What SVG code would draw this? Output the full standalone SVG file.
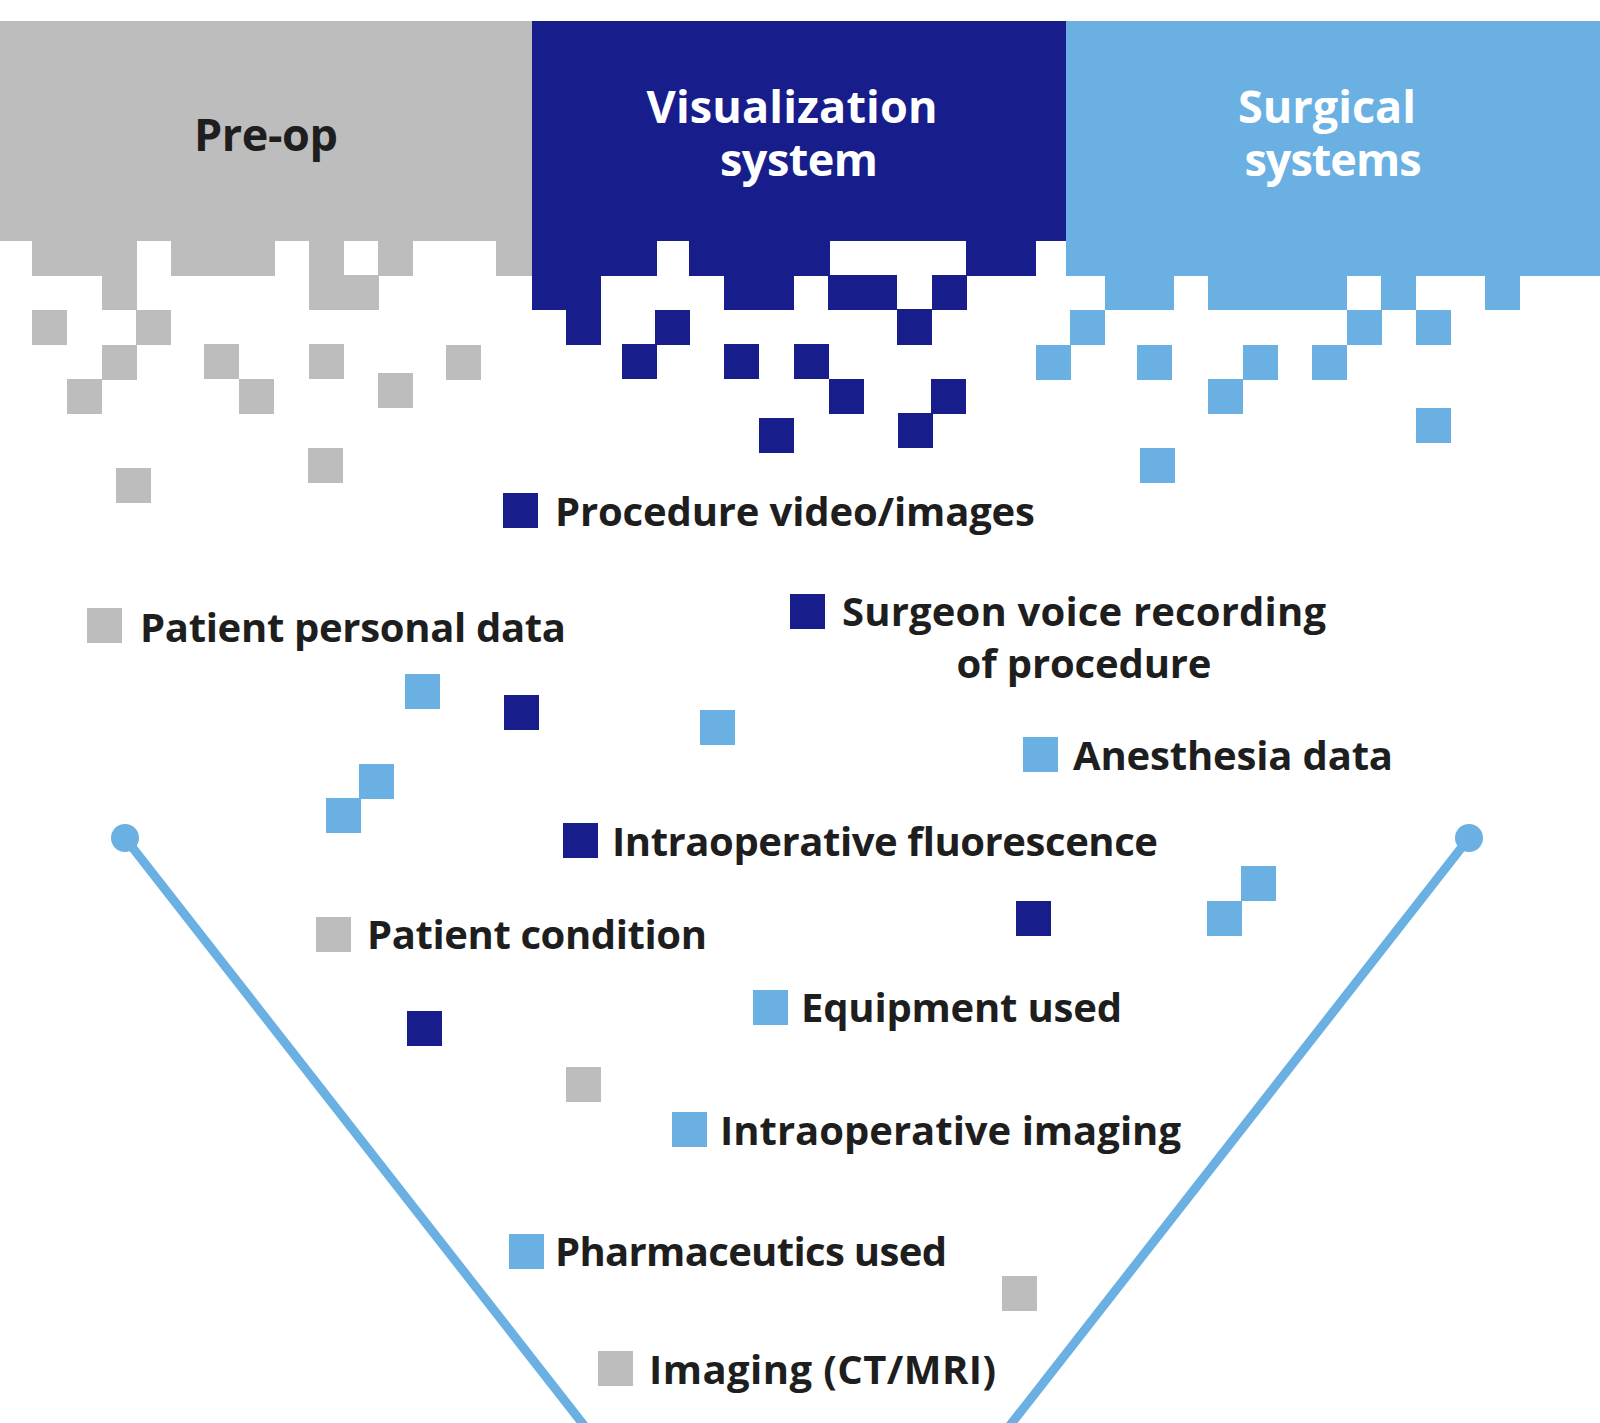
<svg xmlns="http://www.w3.org/2000/svg" width="1600" height="1423" viewBox="0 0 1600 1423">
<style>
.g{fill:#bdbdbd}
.d{fill:#171e8c}
.l{fill:#6ab0e3}
.t{font-family:"Open Sans","Noto Sans","DejaVu Sans",sans-serif;font-weight:700;font-size:40px;fill:#1e1e1e}
.h{font-family:"Open Sans","Noto Sans","DejaVu Sans",sans-serif;font-weight:700;font-size:45px;text-anchor:middle}
.line{stroke:#6ab0e3;stroke-width:9;fill:none}
</style>
<rect width="1600" height="1423" fill="#ffffff"/>
<g id="connectors">
<line class="line" x1="125" y1="838" x2="597" y2="1442"/>
<line class="line" x1="1469" y1="838" x2="997" y2="1442"/>
<circle class="l" cx="125" cy="838" r="14"/>
<circle class="l" cx="1469" cy="838" r="14"/>
</g>
<g id="preop">
<rect class="g" x="0" y="21" width="532" height="220"/>
<rect class="g" x="32" y="240" width="105" height="36"/>
<rect class="g" x="171" y="240" width="104" height="36"/>
<rect class="g" x="309" y="240" width="35" height="36"/>
<rect class="g" x="378" y="240" width="35" height="36"/>
<rect class="g" x="496" y="240" width="36" height="36"/>
<rect class="g" x="102" y="275" width="35" height="35"/>
<rect class="g" x="309" y="275" width="70" height="35"/>
<rect class="g" x="32" y="310" width="35" height="35"/>
<rect class="g" x="136" y="310" width="35" height="35"/>
<rect class="g" x="102" y="345" width="35" height="35"/>
<rect class="g" x="204" y="344" width="35" height="35"/>
<rect class="g" x="309" y="344" width="35" height="35"/>
<rect class="g" x="446" y="345" width="35" height="35"/>
<rect class="g" x="67" y="379" width="35" height="35"/>
<rect class="g" x="239" y="379" width="35" height="35"/>
<rect class="g" x="378" y="373" width="35" height="35"/>
<rect class="g" x="308" y="448" width="35" height="35"/>
<rect class="g" x="116" y="468" width="35" height="35"/>
<text class="h" x="266" y="151" fill="#1e1e1e" textLength="144">Pre-op</text>
</g>
<g id="visualization">
<rect class="d" x="532" y="21" width="534" height="220"/>
<rect class="d" x="532" y="240" width="125" height="36"/>
<rect class="d" x="689" y="240" width="141" height="36"/>
<rect class="d" x="966" y="240" width="70" height="36"/>
<rect class="d" x="532" y="275" width="69" height="35"/>
<rect class="d" x="724" y="275" width="70" height="35"/>
<rect class="d" x="828" y="275" width="69" height="35"/>
<rect class="d" x="932" y="275" width="35" height="35"/>
<rect class="d" x="566" y="309" width="35" height="36"/>
<rect class="d" x="655" y="310" width="35" height="35"/>
<rect class="d" x="897" y="309" width="35" height="36"/>
<rect class="d" x="622" y="344" width="35" height="35"/>
<rect class="d" x="724" y="344" width="35" height="35"/>
<rect class="d" x="794" y="344" width="35" height="35"/>
<rect class="d" x="829" y="379" width="35" height="35"/>
<rect class="d" x="931" y="379" width="35" height="35"/>
<rect class="d" x="759" y="418" width="35" height="35"/>
<rect class="d" x="898" y="413" width="35" height="35"/>
<text class="h" x="792" y="123" fill="#ffffff" textLength="291">Visualization</text>
<text class="h" x="799" y="176" fill="#ffffff" textLength="158">system</text>
</g>
<g id="surgical">
<rect class="l" x="1066" y="21" width="534" height="255"/>
<rect class="l" x="1105" y="275" width="69" height="35"/>
<rect class="l" x="1208" y="275" width="139" height="35"/>
<rect class="l" x="1381" y="275" width="35" height="35"/>
<rect class="l" x="1485" y="275" width="35" height="35"/>
<rect class="l" x="1070" y="310" width="35" height="35"/>
<rect class="l" x="1347" y="310" width="35" height="35"/>
<rect class="l" x="1416" y="310" width="35" height="35"/>
<rect class="l" x="1036" y="345" width="35" height="35"/>
<rect class="l" x="1137" y="345" width="35" height="35"/>
<rect class="l" x="1243" y="345" width="35" height="35"/>
<rect class="l" x="1312" y="345" width="35" height="35"/>
<rect class="l" x="1208" y="379" width="35" height="35"/>
<rect class="l" x="1416" y="408" width="35" height="35"/>
<rect class="l" x="1140" y="448" width="35" height="35"/>
<text class="h" x="1327" y="123" fill="#ffffff" textLength="178">Surgical</text>
<text class="h" x="1333" y="176" fill="#ffffff" textLength="177">systems</text>
</g>
<g id="scatter">
<rect class="l" x="405" y="674" width="35" height="35"/>
<rect class="d" x="504" y="695" width="35" height="35"/>
<rect class="l" x="700" y="710" width="35" height="35"/>
<rect class="l" x="359" y="764" width="35" height="35"/>
<rect class="l" x="326" y="798" width="35" height="35"/>
<rect class="d" x="1016" y="901" width="35" height="35"/>
<rect class="l" x="1241" y="866" width="35" height="35"/>
<rect class="l" x="1207" y="901" width="35" height="35"/>
<rect class="d" x="407" y="1011" width="35" height="35"/>
<rect class="g" x="566" y="1067" width="35" height="35"/>
<rect class="g" x="1002" y="1276" width="35" height="35"/>
</g>
<g id="procedure-video">
<rect class="d" x="503" y="493" width="35" height="35"/>
<text class="t" x="555" y="526" textLength="480">Procedure video/images</text>
</g>
<g id="patient-personal">
<rect class="g" x="87" y="608" width="35" height="35"/>
<text class="t" x="140" y="642" textLength="426">Patient personal data</text>
</g>
<g id="surgeon-voice">
<rect class="d" x="790" y="594" width="35" height="35"/>
<text class="t" x="1084" y="626" text-anchor="middle" textLength="484">Surgeon voice recording</text>
<text class="t" x="1084" y="678" text-anchor="middle" textLength="255">of procedure</text>
</g>
<g id="anesthesia">
<rect class="l" x="1023" y="737" width="35" height="35"/>
<text class="t" x="1073" y="770" textLength="320">Anesthesia data</text>
</g>
<g id="fluorescence">
<rect class="d" x="563" y="823" width="35" height="35"/>
<text class="t" x="612" y="856" textLength="546">Intraoperative fluorescence</text>
</g>
<g id="patient-condition">
<rect class="g" x="316" y="917" width="35" height="35"/>
<text class="t" x="367" y="949" textLength="340">Patient condition</text>
</g>
<g id="equipment">
<rect class="l" x="753" y="990" width="35" height="35"/>
<text class="t" x="801" y="1022" textLength="321">Equipment used</text>
</g>
<g id="intraop-imaging">
<rect class="l" x="672" y="1112" width="35" height="35"/>
<text class="t" x="720" y="1145" textLength="461">Intraoperative imaging</text>
</g>
<g id="pharmaceutics">
<rect class="l" x="509" y="1234" width="35" height="35"/>
<text class="t" x="555" y="1266" textLength="392">Pharmaceutics used</text>
</g>
<g id="imaging-ct">
<rect class="g" x="598" y="1351" width="35" height="35"/>
<text class="t" x="649" y="1384" textLength="347">Imaging (CT/MRI)</text>
</g>
</svg>
